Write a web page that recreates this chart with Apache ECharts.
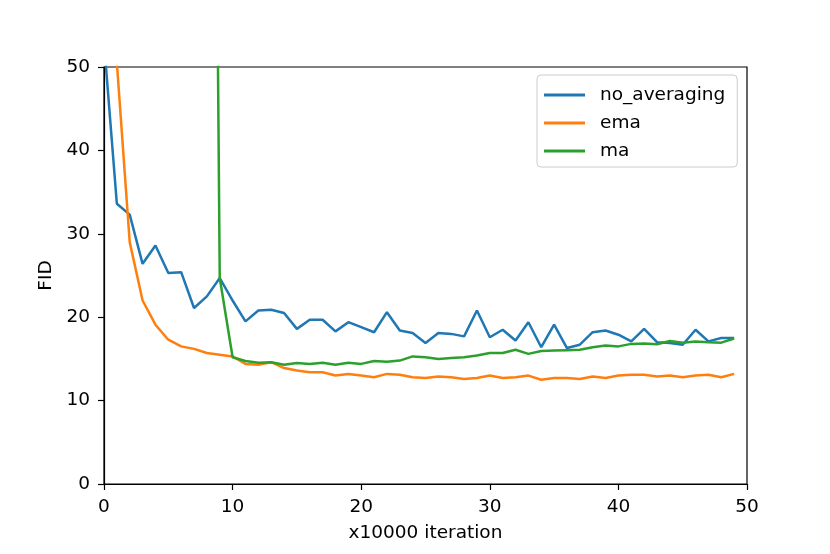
<!DOCTYPE html>
<html>
<head>
<meta charset="utf-8">
<script src="https://cdn.jsdelivr.net/npm/echarts@6/dist/echarts.min.js"></script>
<style>
  html, body { margin: 0; padding: 0; background: #fff; }
  #chart { width: 830px; height: 554px; }
</style>
</head>
<body>
<div id="chart"></div>
<script>
// x axis: iteration index (x10000)
const iterations = [0, 1, 2, 3, 4, 5, 6, 7, 8, 9, 10, 11, 12, 13, 14, 15, 16, 17, 18, 19,
  20, 21, 22, 23, 24, 25, 26, 27, 28, 29, 30, 31, 32, 33, 34, 35, 36, 37, 38, 39,
  40, 41, 42, 43, 44, 45, 46, 47, 48, 49];

const noAveraging = [53, 33.6, 32.3, 26.4, 28.6, 25.3, 25.4, 21.1, 22.5, 24.7,
  22.0, 19.5, 20.8, 20.9, 20.5, 18.6, 19.7, 19.7, 18.3, 19.4,
  18.8, 18.2, 20.6, 18.4, 18.1, 16.9, 18.1, 18.0, 17.7, 20.8,
  17.6, 18.5, 17.2, 19.4, 16.4, 19.1, 16.3, 16.7, 18.2, 18.4,
  17.9, 17.1, 18.6, 17.0, 16.9, 16.7, 18.5, 17.1, 17.5, 17.5];

const ema = [150, 50.5, 29.0, 22.0, 19.1, 17.3, 16.5, 16.2, 15.7, 15.5,
  15.3, 14.4, 14.3, 14.6, 13.9, 13.6, 13.4, 13.4, 13.0, 13.2,
  13.0, 12.8, 13.2, 13.1, 12.8, 12.7, 12.9, 12.8, 12.6, 12.7,
  13.0, 12.7, 12.8, 13.0, 12.5, 12.7, 12.7, 12.6, 12.9, 12.7,
  13.0, 13.1, 13.1, 12.9, 13.0, 12.8, 13.0, 13.1, 12.8, 13.2];

const ma = [null, null, null, null, null, null, null, null, 210, 24.7,
  15.2, 14.75, 14.55, 14.6, 14.3, 14.5, 14.4, 14.55, 14.3, 14.55,
  14.4, 14.75, 14.65, 14.8, 15.3, 15.2, 15.0, 15.1, 15.2, 15.4,
  15.7, 15.7, 16.1, 15.6, 15.95, 16.0, 16.05, 16.1, 16.4, 16.6,
  16.5, 16.8, 16.85, 16.75, 17.15, 16.95, 17.1, 17.0, 16.95, 17.45];

const seriesNames = ['no_averaging', 'ema', 'ma'];
const seriesColors = ['#1f77b4', '#ff7f0e', '#2ca02c'];

const font = 'DejaVu Sans';
const fontSize = 18.5;

function pairs(values) {
  return iterations.map((x, i) => [x, values[i]]);
}

const chart = echarts.init(document.getElementById('chart'));

const axisCommon = {
  min: 0,
  max: 50,
  interval: 10,
  axisLine: { show: true, lineStyle: { color: '#000', width: 1.2 } },
  axisTick: { show: true, inside: false, length: 6, lineStyle: { color: '#000', width: 1.2 } },
  splitLine: { show: false },
  nameLocation: 'middle',
  nameTextStyle: { color: '#000', fontFamily: font, fontSize: fontSize },
};

chart.setOption({
  animation: false,
  backgroundColor: '#fff',
  grid: {
    left: 104,
    right: 83,
    top: 67,
    bottom: 70,
    show: true,
    borderColor: '#000',
    borderWidth: 1.2,
    backgroundColor: 'transparent',
  },
  legend: {
    orient: 'vertical',
    left: 537,
    top: 75,
    padding: [10, 12, 6, 7],
    itemGap: 8,
    itemWidth: 41,
    itemHeight: 3,
    icon: 'rect',
    borderColor: '#ccc',
    borderWidth: 1,
    borderRadius: 4,
    backgroundColor: 'rgba(255,255,255,0.8)',
    textStyle: {
      color: '#000',
      fontFamily: font,
      fontSize: fontSize,
      lineHeight: 20,
      padding: [0, 0, 0, 10],
    },
    data: seriesNames,
  },
  xAxis: Object.assign({}, axisCommon, {
    type: 'value',
    name: 'x10000 iteration',
    nameGap: 40,
    axisLabel: { color: '#000', fontFamily: font, fontSize: fontSize, margin: 14 },
  }),
  yAxis: Object.assign({}, axisCommon, {
    type: 'value',
    name: 'FID',
    nameGap: 45,
    axisLabel: { color: '#000', fontFamily: font, fontSize: fontSize, margin: 14 },
  }),
  series: [noAveraging, ema, ma].map((vals, i) => ({
    name: seriesNames[i],
    type: 'line',
    data: pairs(vals),
    showSymbol: false,
    symbol: 'none',
    clip: true,
    connectNulls: false,
    color: seriesColors[i],
    lineStyle: { width: 2.5, color: seriesColors[i] },
  })),
});
</script>
</body>
</html>
